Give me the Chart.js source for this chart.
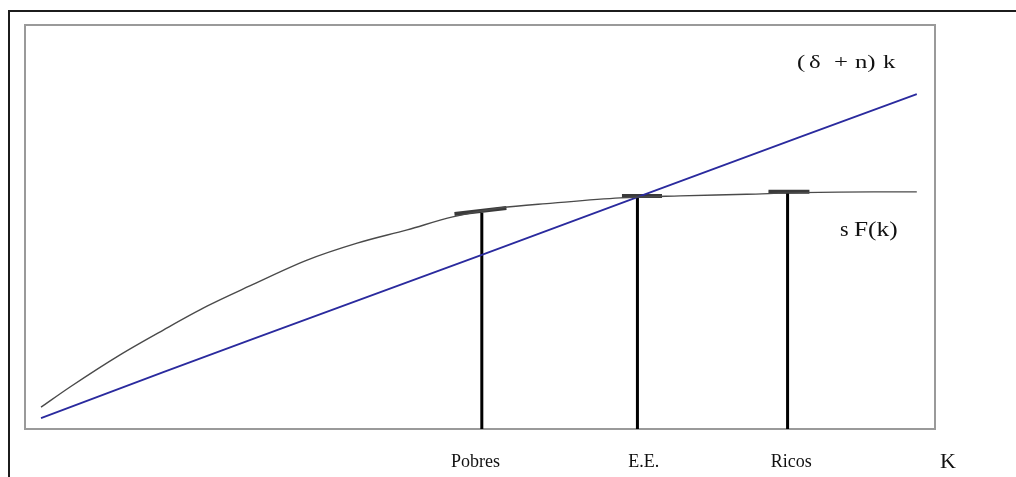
<!DOCTYPE html>
<html>
<head>
<meta charset="utf-8">
<script src="https://cdn.jsdelivr.net/npm/chart.js@4.4.1/dist/chart.umd.min.js"></script>
<style>
  html, body { margin: 0; padding: 0; background: #ffffff; }
  #wrap { width: 1016px; height: 477px; }
</style>
</head>
<body>
<div id="wrap"><canvas id="solow" width="1016" height="477"></canvas></div>
<script>
// Savings curve s F(k) (capital stock k, level)
const sfkX = [1.76, 4.95, 10.4, 15.2, 20.0, 24.7, 31.0, 36.5, 42.0, 47.0, 52.2, 58.0, 65.4, 72.0, 79.3, 85.2, 93.2, 98.0];
const sfkY = [5.4, 10.4, 18.3, 24.5, 30.4, 35.4, 41.8, 46.0, 49.3, 52.5, 54.7, 55.9, 57.2, 57.7, 58.1, 58.5, 58.7, 58.7];

// Break-even line (delta + n) k
const depX = [1.76, 15.2, 24.7, 50.2, 67.3, 85.2, 98.0];
const depY = [2.7, 14.1, 22.0, 43.1, 57.4, 72.3, 82.9];

// Countries marked on the k axis
const markNames = ['Pobres', 'E.E.', 'Ricos'];
const markX = [50.2, 67.3, 83.8];
const markTop = [53.5, 57.2, 58.4];
// small caps sitting on the curve above each mark
const capFrom = [[47.2, 53.2], [65.6, 57.7], [81.7, 58.7]];
const capTo = [[52.9, 54.7], [70.0, 57.7], [86.2, 58.7]];
// where the axis names are centred
const labelX = [49.5, 68.0, 84.2];
const axisName = 'K';

const serif = "'Liberation Serif', 'Times New Roman', serif";

function zipPoints(xs, ys) {
    return xs.map((x, i) => ({ x: x, y: ys[i] }));
}

// stems with gaps between them
const stemPts = [];
markX.forEach((x, i) => {
    stemPts.push({ x: x, y: 0 }, { x: x, y: markTop[i] }, { x: x, y: null });
});

const capPts = [];
capFrom.forEach((p, i) => {
    capPts.push({ x: p[0], y: p[1] }, { x: capTo[i][0], y: capTo[i][1] }, { x: p[0], y: null });
});

// draw text stretched sideways, like the original picture
function wideText(ctx, str, x, y, sx) {
    ctx.save();
    ctx.translate(x, y);
    ctx.scale(sx, 1);
    ctx.fillText(str, 0, 0);
    ctx.restore();
}

// frames and text
const decor = {
    id: 'decor',
    beforeDraw(chart) {
        const ctx = chart.ctx;
        const a = chart.chartArea;
        ctx.save();
        ctx.fillStyle = '#ffffff';
        ctx.fillRect(0, 0, chart.width, chart.height);
        // outer frame
        ctx.strokeStyle = '#1c1c1c';
        ctx.lineWidth = 2;
        ctx.beginPath();
        ctx.moveTo(9, chart.height);
        ctx.lineTo(9, 11);
        ctx.lineTo(chart.width, 11);
        ctx.stroke();
        // plot box
        ctx.strokeStyle = '#9a9a9a';
        ctx.lineWidth = 2;
        ctx.strokeRect(a.left, a.top, a.right - a.left, a.bottom - a.top);
        ctx.restore();
    },
    afterDraw(chart) {
        const ctx = chart.ctx;
        const xs = chart.scales.x;
        ctx.save();
        ctx.fillStyle = '#111111';
        ctx.textBaseline = 'alphabetic';
        ctx.textAlign = 'left';

        // (δ + n) k
        ctx.font = '19px ' + serif;
        [['(', 797], ['δ', 809], ['+', 834], ['n)', 855], ['k', 883]].forEach(t => {
            wideText(ctx, t[0], t[1], 68, 1.3);
        });

        // s F(k)
        ctx.font = '22px ' + serif;
        wideText(ctx, 's', 840, 236, 1.0);
        wideText(ctx, 'F(k)', 854, 236, 1.15);

        // names under the axis
        ctx.font = '18px ' + serif;
        ctx.textAlign = 'center';
        markNames.forEach((name, i) => {
            ctx.fillText(name, xs.getPixelForValue(labelX[i]), 467);
        });
        ctx.font = '22px ' + serif;
        ctx.fillText(axisName, 948, 468);
        ctx.restore();
    }
};

new Chart(document.getElementById('solow'), {
    type: 'line',
    data: {
        datasets: [
            {
                label: 's F(k)',
                data: zipPoints(sfkX, sfkY),
                borderColor: '#4a4a4a',
                borderWidth: 1.4,
                pointRadius: 0,
                cubicInterpolationMode: 'monotone'
            },
            {
                label: '(δ + n) k',
                data: zipPoints(depX, depY),
                borderColor: '#2a2a9e',
                borderWidth: 1.8,
                pointRadius: 0,
                tension: 0
            },
            {
                label: 'stems',
                data: stemPts,
                borderColor: '#000000',
                borderWidth: 3,
                pointRadius: 0,
                spanGaps: false
            },
            {
                label: 'caps',
                data: capPts,
                borderColor: '#3a3a3a',
                borderWidth: 4,
                pointRadius: 0,
                spanGaps: false
            },
            {
                label: 'caps inner',
                data: capPts,
                borderColor: '#d0d0d0',
                borderWidth: 1.2,
                pointRadius: 0,
                spanGaps: false
            }
        ]
    },
    options: {
        responsive: false,
        animation: false,
        devicePixelRatio: 1,
        layout: { padding: { left: 25, top: 25, right: 81, bottom: 48 } },
        plugins: {
            legend: { display: false },
            tooltip: { enabled: false }
        },
        scales: {
            x: { type: 'linear', min: 0, max: 100, display: false },
            y: { type: 'linear', min: 0, max: 100, display: false }
        }
    },
    plugins: [decor]
});
</script>
</body>
</html>
